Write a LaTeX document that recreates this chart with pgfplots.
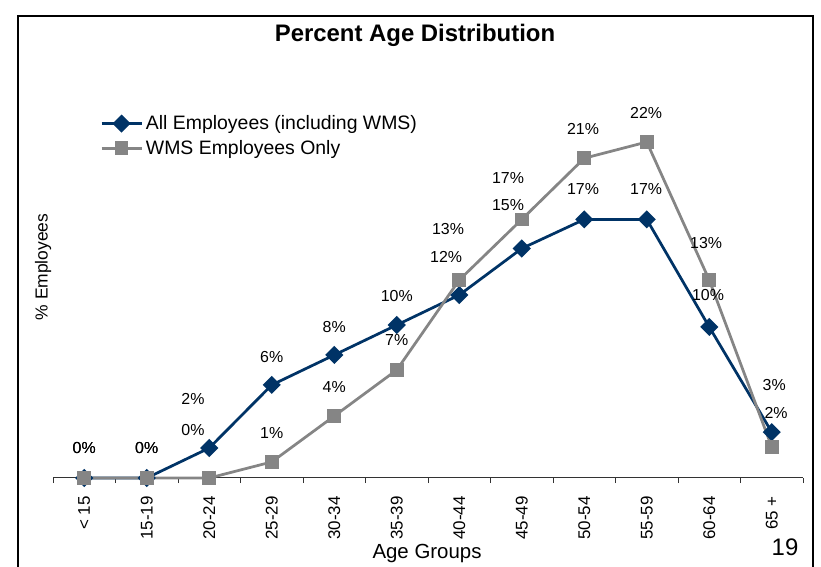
\documentclass[border=0pt]{standalone}
\usepackage{pgfplots}
\pgfplotsset{compat=1.18}
\usepackage{fontspec}
\setmainfont{Liberation Sans}
\definecolor{navy}{HTML}{003366}
\definecolor{wmsgray}{HTML}{858585}
\begin{document}
\begin{tikzpicture}
\path[use as bounding box] (0,0) rectangle (821bp,567bp);
\draw[line width=1.6bp] (18bp,-2bp) -- (18bp,551bp) -- (813bp,551bp) -- (813bp,-2bp);
\node[font=\fontsize{24}{28}\selectfont\bfseries] at (415bp,532bp) {Percent Age Distribution};
\begin{axis}[
  at={(53bp,89bp)}, anchor=south west,
  scale only axis, width=750bp, height=382.5bp,
  xmin=-0.5, xmax=11.5, ymin=0, ymax=25,
  clip=false,
  axis x line*=bottom, axis y line=none,
  x axis line style={line width=1bp, color=black!80},
  xtick={-0.5,0.5,...,11.5},
  x tick label as interval,
  xticklabels={{< 15},{15-19},{20-24},{25-29},{30-34},{35-39},{40-44},{45-49},{50-54},{55-59},{60-64},{65 +}},
  xticklabel style={rotate=90, anchor=east, inner sep=0pt, xshift=-13bp, font=\fontsize{17}{20}\selectfont},
  major tick length=5bp, tick align=outside,
  tick style={line width=1bp, color=black!80},
  legend cell align=left,
  legend style={at={(axis description cs:0.0627,0.95)}, anchor=north west, draw=none, fill=none,
    inner sep=0pt, row sep=7bp, column sep=2bp, nodes={inner sep=1bp},
    font=\fontsize{19.5}{22}\selectfont},
  legend image code/.code={\draw[mark repeat=2,mark phase=2] plot coordinates {(0bp,0bp) (20bp,0bp) (40bp,0bp)};},
]
\addplot[color=navy, line width=2.75bp, mark=square*, mark size=5bp, mark options={rotate=45, solid}]
  coordinates {(0,0) (1,0) (2,1.96) (3,6.08) (4,8.04) (5,10.0) (6,11.96) (7,15.0) (8,16.9) (9,16.9) (10,9.87) (11,3.0)};
\addlegendentry{All Employees (including WMS)}
\addplot[color=wmsgray, line width=2.75bp, mark=square*, mark size=5.5bp, mark options={solid}]
  coordinates {(0,0) (1,0) (2,0) (3,1.05) (4,4.05) (5,7.06) (6,12.94) (7,16.9) (8,20.9) (9,21.96) (10,12.94) (11,2.03)};
\addlegendentry{WMS Employees Only}
\begin{scope}[every node/.style={font=\fontsize{16}{19}\selectfont, inner sep=0pt}]
\node at (axis cs:0,1.96) {0\%};
\node at (axis cs:0,1.96) {0\%};
\node at (axis cs:1,1.96) {0\%};
\node at (axis cs:1,1.96) {0\%};
\node at (axis cs:1.74,5.16) {2\%};
\node at (axis cs:1.74,3.14) {0\%};
\node at (axis cs:3,7.91) {6\%};
\node at (axis cs:3,2.94) {1\%};
\node at (axis cs:4,9.9) {8\%};
\node at (axis cs:4,5.95) {4\%};
\node at (axis cs:5,11.9) {10\%};
\node at (axis cs:5,9.02) {7\%};
\node at (axis cs:5.82,16.27) {13\%};
\node at (axis cs:5.79,14.44) {12\%};
\node at (axis cs:6.78,19.6) {17\%};
\node at (axis cs:6.78,17.84) {15\%};
\node at (axis cs:7.98,22.81) {21\%};
\node at (axis cs:7.98,18.89) {17\%};
\node at (axis cs:8.99,23.86) {22\%};
\node at (axis cs:8.99,18.89) {17\%};
\node at (axis cs:9.95,15.36) {13\%};
\node at (axis cs:9.98,11.96) {10\%};
\node at (axis cs:11.04,6.08) {3\%};
\node at (axis cs:11.07,4.25) {2\%};
\end{scope}
\end{axis}
\node[rotate=90, font=\fontsize{17.5}{20}\selectfont] at (43bp,300bp) {\% Employees};
\node[font=\fontsize{20.5}{24}\selectfont] at (427bp,14bp) {Age Groups};
\node[font=\fontsize{24}{28}\selectfont] at (785bp,20bp) {19};
\end{tikzpicture}
\end{document}
